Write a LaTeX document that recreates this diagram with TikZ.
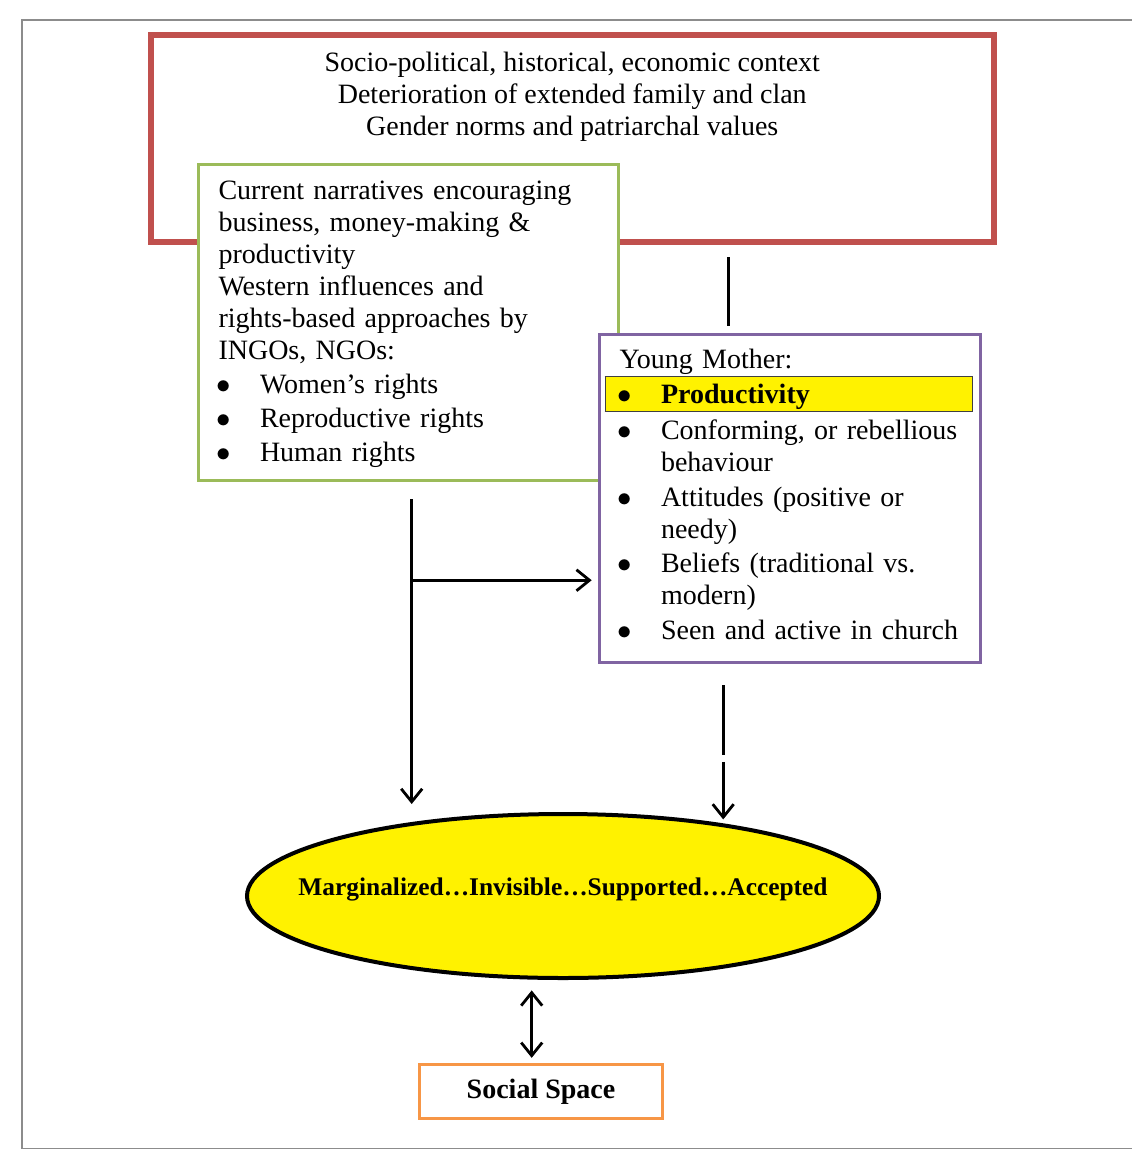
\documentclass[tikz,border=0pt]{standalone}
\usepackage{fontspec}
\setmainfont{Liberation Serif}
\usepackage{xcolor}
\usepackage{tikz}
\usetikzlibrary{shapes.geometric,arrows.meta,positioning}

\definecolor{ctxred}{RGB}{192,80,77}
\definecolor{narrgreen}{RGB}{155,187,89}
\definecolor{motherpurple}{RGB}{128,100,162}
\definecolor{spaceorange}{RGB}{247,150,70}
\definecolor{framegray}{RGB}{140,140,140}
\setlength{\fboxsep}{0pt}
\setlength{\fboxrule}{0.5pt}
\newcommand{\bulletmark}{\makebox[20.75pt][l]{\hspace*{-1.2pt}$\bullet$}}
\newcommand{\bulletindent}{\hspace*{20.75pt}}

\begin{document}
\begin{tikzpicture}[x=0.5pt, y=-0.5pt, font=\fontsize{14}{16}\selectfont,
    textbox/.style={draw, rectangle, fill=white, align=left, line width=1.5pt, inner ysep=6.6pt},
    link/.style={line width=1.4pt, -{Straight Barb[length=6.5pt,width=10.5pt]}},
    dlink/.style={line width=1.4pt, {Straight Barb[length=6.5pt,width=10.5pt]}-{Straight Barb[length=6.5pt,width=10.5pt]}}]
        \useasboundingbox (0,0) rectangle (1131,1151);
        \draw[framegray, line width=0.75pt] (22,20) rectangle (1150,1148.5);

        % Nodes
        \node[draw=ctxred, line width=3pt, minimum width=421.75pt, minimum height=103.75pt, inner sep=0pt] (ctx) at (572.25,138.25) {};
        \node[inner sep=0pt, align=center, below=10.25pt of ctx.north] (ctxtext) {Socio-political, historical, economic context\\Deterioration of extended family and clan\\Gender norms and patriarchal values};
        \node[textbox, draw=narrgreen, text width=190.3pt, inner xsep=9.85pt, anchor=north west] (narr) at (197.3,163.3) {\rule{0pt}{10.6pt}Current narratives encouraging\\
            business, money-making \&\\
            productivity\\
            Western influences and\\
            rights-based approaches by\\
            INGOs, NGOs:\\[1pt]
            \bulletmark Women's rights\\[1pt]
            \bulletmark Reproductive rights\\[1pt]
            \bulletmark Human rights};
        \node[textbox, draw=motherpurple, text width=170.8pt, inner xsep=9.85pt, anchor=north west] (mother) at (598.3,333.3) {\rule{0pt}{10pt}Young Mother:\\[1.8pt]
            \leavevmode\rlap{\hspace*{-7.5pt}\smash{\fcolorbox{black!75}{yellow}{\rule[-3.85pt]{0pt}{17pt}\hspace*{183pt}}}}\bulletmark\textbf{Productivity}\\[1.8pt]
            \bulletmark Conforming, or rebellious\\
            \bulletindent behaviour\\[1.4pt]
            \bulletmark Attitudes (positive or\\
            \bulletindent needy)\\[1.4pt]
            \bulletmark Beliefs (traditional vs.\\
            \bulletindent modern)\\[1.4pt]
            \bulletmark Seen and active in church\rule[-4.6pt]{0pt}{0pt}};
        \node[ellipse, draw, line width=2pt, fill=yellow, minimum width=316pt, minimum height=82pt, inner xsep=-25pt, inner ysep=0pt, text depth=9pt, font=\fontsize{12.7}{15}\selectfont\bfseries] (ellip) at (563,896) {Marginalized…Invisible…Supported…Accepted};
        \node[draw=spaceorange, line width=1.5pt, minimum width=121.5pt, minimum height=27pt, inner sep=0pt, font=\fontsize{14}{16}\selectfont\bfseries, below=41.5pt of ellip, xshift=-11pt] (space) {Social Space};

        % Arrows
        \coordinate (fork) at ([xshift=1.45pt,yshift=-49.15pt]narr.south);
        \draw[line width=1.4pt, shorten <=6.15pt, shorten >=3.65pt] ([xshift=78pt]ctx.south) -- ([xshift=78pt]ctx.south |- mother.north);
        \draw[link, shorten <=8.7pt, shorten >=4pt] ([xshift=1.45pt]narr.south) -- ([xshift=1.45pt]narr.south |- ellip.north);
        \draw[link, shorten >=3.3pt] (fork) -- (fork -| mother.west);
        \draw[link, dash pattern=on 35pt off 3.35pt on 100pt off 0pt, shorten <=10.85pt, shorten >=-3.7pt] ([xshift=-33.55pt]mother.south) -- ([xshift=-33.55pt]mother.south |- ellip.north);
        \draw[dlink, shorten <=2.6pt, shorten >=5.2pt] ([xshift=-4.65pt]space.north) -- ([xshift=-4.65pt]space.north |- ellip.south);
\end{tikzpicture}
\end{document}
